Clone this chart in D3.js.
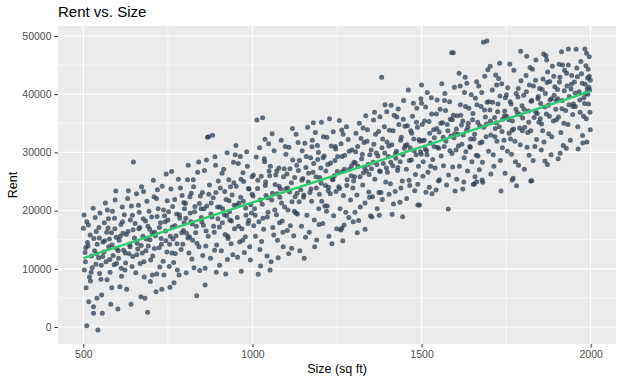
<!DOCTYPE html>
<html><head><meta charset="utf-8">
<script src="https://cdn.jsdelivr.net/npm/d3@7"></script>
<style>body{margin:0;background:#fff}svg{display:block}text{font-family:"Liberation Sans",Arial,sans-serif}</style>
</head><body><svg id="c" width="623" height="378"></svg>
<script>
const title = "Rent vs. Size";
const xLabel = "Size (sq ft)";
const yLabel = "Rent";
const xTicks = [500, 1000, 1500, 2000];
const yTicks = [0, 10000, 20000, 30000, 40000, 50000];
// [size, rent] (outer spread)
const pointsOuter = [
[502,19240],[510,18100],[500,16960],[515,17520],[508,6750],[516,4350],[530,3490],[540,4930],[510,220],[543,-515],[530,2350],[505,12800],[512,14500],[520,15800],[526,10200],[533,13100],[538,16400],[545,11900],[548,9200],[503,9800],[518,8600],[524,12200],[535,18800],[541,14200],[507,13600],[529,20400],[547,15300],[521,7900],[537,10800],[549,19600],
[556,2350],[554,5500],[596,23370],[584,6750],[558,14600],[562,17900],[567,11200],[571,20100],[575,13800],[579,9400],[583,16200],[588,12300],[592,18700],[597,15400],[553,10600],[565,21300],[570,8100],[577,15100],[586,19900],[591,10700],[599,13500],[561,12900],[573,17000],[594,21800],[581,3900],
[602,3090],[608,6920],[628,6480],[641,3900],[648,28350],[604,11800],[611,17600],[615,20600],[619,13200],[623,9800],[627,15900],[631,22100],[635,12600],[639,18400],[644,10400],[647,16700],[606,14900],[613,8700],[621,19300],[633,23400],[637,14100],[642,20800],[646,12100],[617,16100],[625,11000],
[670,5200],[682,4930],[690,2520],[653,17800],[657,22900],[661,13400],[665,19700],[668,10900],[672,24100],[676,15600],[680,8600],[684,18200],[688,21600],[692,13900],[696,16800],[699,11500],[655,9300],[663,20900],[674,12700],[678,23300],[686,15100],[694,19900],[698,7800],[659,14400],[667,17100],
[715,6060],[732,6480],[745,26300],[702,18900],[705,12200],[709,22400],[713,15700],[717,9100],[721,20300],[724,13600],[728,17900],[733,24200],[736,11300],[740,19100],[744,14800],[748,21700],[704,8930],[711,16300],[719,23600],[726,10300],[730,15200],[738,8930],[742,18100],[747,12900],[707,25200],
[756,6820],[752,19800],[755,14200],[759,23700],[763,17200],[767,11100],[770,21900],[774,15700],[778,9800],[781,25400],[785,18700],[789,13300],[792,22600],[796,16600],[799,20300],[754,10400],[761,26700],[765,15100],[772,12600],[776,19400],[783,8930],[787,23900],[794,14200],[798,17900],[768,7600],
[835,5380],[841,28350],[802,21200],[805,16100],[808,25300],[812,12700],[816,19600],[819,23000],[823,14900],[827,10200],[830,20700],[834,17300],[838,26600],[842,13800],[846,22500],[849,18800],[804,9300],[810,27800],[814,15500],[821,11700],[826,24100],[832,16200],[844,9700],[848,20300],[818,18100],
[860,7220],[867,32600],[870,32700],[882,32930],[889,29260],[860,10080],[852,23100],[855,17500],[858,26900],[862,13900],[865,20800],[869,15600],[873,24400],[876,11800],[880,18900],[884,22200],[887,16300],[891,27800],[894,14100],[897,20600],[853,12300],[864,28700],[878,21300],[893,9400],[899,25100],
[925,29950],[902,17200],[905,23900],[908,13100],[912,20300],[915,27100],[919,15900],[922,21900],[926,11600],[930,25300],[933,18400],[937,14300],[940,22700],[944,28300],[947,16900],[903,10600],[910,26400],[917,19300],[928,15200],[935,24100],[942,12400],[946,20900],[949,29600],[921,9100],[932,19800],
[952,24200],[955,18800],[958,28100],[962,14600],[965,22300],[969,16900],[972,26500],[976,12800],[980,20400],[983,30100],[987,17800],[990,23700],[994,11500],[997,19600],[951,31200],[960,21300],[967,9600],[974,25000],[979,15500],[985,27600],[992,13800],[999,22800],[956,12000],[964,29300],[989,18300],
[1013,35560],[1030,35960],[1037,32250],[1017,9050],[1003,26100],[1006,20300],[1009,15600],[1011,29200],[1015,23800],[1019,18100],[1022,13300],[1026,25900],[1029,21100],[1033,16800],[1036,28400],[1040,22600],[1043,12200],[1046,19700],[1049,26800],[1004,17400],[1021,30800],[1027,14700],[1039,24900],[1044,18900],[1048,31500],[1024,10500],
[1052,9790],[1055,11220],[1091,13800],[1053,27600],[1057,21800],[1060,17100],[1064,30300],[1067,24500],[1071,19300],[1074,14900],[1078,27300],[1081,22300],[1085,32100],[1088,18200],[1092,25800],[1095,20600],[1099,29700],[1058,33200],[1063,15800],[1069,26100],[1076,11900],[1083,23700],[1090,16300],[1097,31000],[1073,22900],
[1116,13520],[1102,26300],[1105,20100],[1108,30900],[1112,17400],[1115,24800],[1119,28700],[1122,15700],[1126,22400],[1129,33100],[1133,19400],[1136,26900],[1140,13100],[1143,23600],[1147,30300],[1103,16600],[1110,23200],[1118,34100],[1124,19900],[1131,27800],[1138,21500],[1145,17300],[1149,25500],[1107,12600],[1135,31700],
[1155,31560],[1176,30980],[1180,35100],[1153,11800],[1190,14950],[1152,22700],[1158,27400],[1161,19200],[1165,24900],[1168,16300],[1172,29100],[1175,21600],[1179,26600],[1183,18400],[1186,33400],[1189,23900],[1193,28800],[1196,20300],[1199,25700],[1157,15400],[1163,34300],[1170,23100],[1184,13800],[1192,31200],[1197,17600],
[1210,32700],[1220,32600],[1239,33550],[1202,27300],[1205,21600],[1208,17800],[1212,29400],[1216,24300],[1219,19900],[1223,27900],[1226,15600],[1230,22900],[1233,31100],[1237,25400],[1240,19100],[1244,28600],[1247,23300],[1249,16900],[1204,35200],[1214,20800],[1228,35800],[1235,14300],[1242,26000],[1246,30600],[1225,24000],
[1264,33850],[1264,16960],[1261,16660],[1271,17520],[1298,18090],[1252,29300],[1255,24100],[1259,20300],[1262,31500],[1266,26700],[1269,22600],[1273,29500],[1276,19700],[1280,25300],[1283,32200],[1287,27100],[1290,21800],[1294,30400],[1297,23900],[1300,28300],[1257,35500],[1267,14800],[1278,34400],[1285,18800],[1292,26000],
[1306,33270],[1310,16200],[1303,19700],[1333,16780],[1302,25800],[1305,30100],[1309,22700],[1312,27600],[1316,35000],[1319,20600],[1323,28900],[1326,24400],[1330,31700],[1333,21300],[1337,26800],[1340,33900],[1344,23200],[1347,29600],[1349,19100],[1314,18300],[1321,32400],[1328,26500],[1335,36300],[1342,27900],[1346,22300],
[1358,35560],[1377,36130],[1397,36990],[1382,42900],[1352,27200],[1355,22400],[1359,31400],[1362,25400],[1366,29900],[1369,20300],[1373,33600],[1376,26800],[1380,23100],[1383,30800],[1387,28100],[1390,34400],[1394,24900],[1398,31800],[1353,18900],[1361,36900],[1368,27900],[1375,19200],[1384,21900],[1392,38200],[1399,26600],
[1413,19360],[1444,18950],[1417,21130],[1436,21420],[1431,37450],[1402,29300],[1405,33800],[1408,24600],[1412,31300],[1415,27700],[1419,36400],[1422,23300],[1426,30200],[1429,26900],[1433,34800],[1437,28400],[1440,32600],[1443,25100],[1447,38900],[1449,30700],[1404,22800],[1410,38100],[1424,29000],[1439,23900],[1446,35700],
[1461,40720],[1476,38430],[1486,37570],[1489,20960],[1494,20960],[1489,24520],[1500,41580],[1452,31200],[1455,27100],[1458,34600],[1463,25200],[1466,30800],[1470,28700],[1473,36200],[1477,32300],[1480,23400],[1484,29600],[1488,34300],[1491,27600],[1495,31900],[1498,39200],[1456,22100],[1468,33700],[1482,26200],[1497,30100],
[1500,38430],[1513,23140],[1523,24000],[1543,23540],[1550,25080],[1502,34800],[1505,28400],[1508,32100],[1512,37800],[1515,30300],[1519,26600],[1522,35300],[1526,31600],[1529,39400],[1533,28800],[1536,33900],[1540,27300],[1544,36600],[1547,30900],[1504,25900],[1517,40300],[1531,22900],[1538,32500],[1546,39000],[1511,30600],
[1579,20270],[1589,47130],[1594,47130],[1599,23370],[1552,33500],[1555,37400],[1558,29400],[1562,35100],[1565,27700],[1569,40100],[1572,31900],[1576,34800],[1580,26100],[1583,38700],[1587,32800],[1590,29800],[1594,36400],[1597,41200],[1553,25300],[1560,41800],[1567,31000],[1574,24400],[1585,35700],[1592,27500],[1598,33200],
[1614,41400],[1634,41870],[1622,23710],[1602,30400],[1605,36300],[1608,33100],[1612,27600],[1615,38200],[1619,31400],[1622,35400],[1626,29100],[1629,42900],[1633,33800],[1636,26800],[1640,37600],[1643,31000],[1647,39900],[1649,28400],[1604,25400],[1611,43600],[1618,34700],[1625,24900],[1638,35000],[1645,32300],[1631,30100],
[1653,24520],[1663,42140],[1656,24570],[1681,24860],[1683,48910],[1693,49130],[1663,24960],[1658,25820],[1679,25250],[1652,36700],[1655,32300],[1659,39300],[1662,29500],[1666,35200],[1669,41400],[1673,31600],[1676,37900],[1680,28300],[1684,34300],[1687,43100],[1691,32700],[1694,38600],[1698,30200],[1671,27000],[1678,40300],[1689,36100],[1696,44200],
[1705,26290],[1735,23370],[1747,26400],[1702,37300],[1705,33000],[1709,40700],[1712,29600],[1716,36000],[1719,43300],[1723,31900],[1726,38300],[1730,34400],[1733,28600],[1737,41800],[1740,35700],[1744,32100],[1748,39400],[1703,44800],[1714,27600],[1721,35100],[1728,42700],[1739,30800],[1746,37100],[1731,45300],[1717,32700],
[1771,25550],[1781,24280],[1768,25250],[1793,47400],[1752,36200],[1755,41100],[1759,33300],[1762,38700],[1766,29700],[1769,35400],[1773,44100],[1776,31900],[1780,40100],[1783,36800],[1787,27800],[1790,34200],[1794,42300],[1797,38000],[1754,30200],[1761,45200],[1768,33800],[1778,28400],[1785,39500],[1792,31300],[1799,35900],
[1823,25080],[1826,25130],[1838,45870],[1802,39800],[1805,34300],[1809,43200],[1812,30900],[1816,37100],[1819,41600],[1823,33700],[1826,38900],[1830,28600],[1833,36000],[1837,42400],[1840,32200],[1844,39200],[1847,35200],[1804,27100],[1811,46500],[1818,29500],[1828,44300],[1835,31000],[1842,36700],[1849,41000],[1814,33400],
[1865,28520],[1868,46610],[1870,45870],[1852,38400],[1855,34900],[1859,42600],[1862,31800],[1866,40100],[1869,36600],[1873,43800],[1876,33200],[1880,39000],[1883,29600],[1887,44800],[1890,35400],[1894,41300],[1897,37400],[1854,30400],[1861,46900],[1872,27900],[1879,42200],[1885,32700],[1892,39800],[1899,35600],[1875,38100],
[1907,45130],[1917,45010],[1934,45010],[1910,29840],[1934,47760],[1902,40800],[1905,36100],[1909,42900],[1912,33400],[1916,38900],[1919,31200],[1923,44100],[1926,37200],[1930,41400],[1933,34800],[1937,39600],[1940,32100],[1944,43200],[1947,36500],[1904,28900],[1914,47300],[1921,35000],[1928,30700],[1942,40900],[1949,38300],
[1957,47710],[1983,47760],[1988,47020],[1996,46440],[1977,31610],[1952,42100],[1955,37900],[1959,44500],[1962,34400],[1966,40400],[1969,36900],[1973,43500],[1976,32900],[1980,39400],[1984,41700],[1987,35800],[1991,42800],[1994,38300],[1997,40700],[1999,33900],[1963,30600],[1971,45600],[1989,31800],[1993,44300],[1998,36900],[1985,40100],[1995,41200]
];
// [size, rent] (dense core near the trend)
const pointsCore = [
[506,11200],[514,13900],[523,9400],[531,15200],[539,12600],[546,17100],[557,12100],[563,14800],[569,16300],[578,11600],[585,14100],[593,16900],[598,10900],[552,8200],[574,18600],
[603,13100],[609,15600],[616,18100],[624,12700],[632,16400],[638,13800],[645,19200],[651,15300],[658,12400],[664,16900],[671,14000],[677,18600],[685,13100],[691,17300],[697,15000],[612,10100],[679,11200],
[703,16200],[710,13500],[718,19000],[725,17100],[731,14200],[737,20100],[743,16500],[750,18400],[757,15600],[764,20700],[771,17400],[777,14300],[784,19300],[791,16200],[797,21400],[716,22100],[762,12700],
[803,18700],[809,15300],[815,22400],[822,17700],[829,19800],[836,14400],[843,21200],[850,18100],[857,20300],[863,16500],[871,22800],[877,19400],[885,17300],[892,23100],[898,18600],[825,25300],[888,13200],
[904,20600],[911,17900],[918,23300],[924,19100],[931,21700],[938,18200],[945,24800],[953,20900],[959,17300],[966,25400],[973,21600],[981,19200],[988,23800],[995,21000],[999,25800],[927,15600],[971,14900],
[1002,22500],[1008,19200],[1016,25200],[1023,21800],[1031,18700],[1038,24300],[1045,22200],[1051,26000],[1059,23000],[1066,20100],[1072,26800],[1079,24200],[1086,21300],[1094,27200],[1098,23700],[1035,28900],[1080,17900],
[1104,23900],[1111,27200],[1117,21500],[1125,25700],[1132,23000],[1139,28600],[1146,25200],[1151,22300],[1159,29300],[1166,26400],[1173,23700],[1181,28100],[1188,25800],[1195,30000],[1198,22800],[1128,19600],[1177,32100],
[1203,24700],[1209,29100],[1217,26800],[1224,23400],[1231,28200],[1238,25300],[1245,31000],[1251,26700],[1258,23800],[1265,29300],[1272,27100],[1279,24300],[1286,30200],[1293,27700],[1299,25100],[1221,20800],[1268,33100],
[1304,28200],[1311,31000],[1318,25800],[1325,29700],[1332,27300],[1339,31900],[1345,26200],[1351,30400],[1357,28300],[1364,33100],[1371,29400],[1378,26700],[1385,32300],[1391,29900],[1396,27300],[1327,34200],[1374,23100],
[1403,31100],[1409,28300],[1416,33700],[1423,29800],[1430,27400],[1438,32100],[1445,29600],[1451,34500],[1457,31300],[1464,28600],[1471,33300],[1478,30300],[1485,35200],[1492,32200],[1499,29700],[1427,36100],[1465,24300],
[1503,32000],[1509,35400],[1516,29600],[1524,33300],[1530,36600],[1537,31000],[1545,34100],[1551,30700],[1557,35000],[1564,32600],[1571,37200],[1578,33700],[1584,30300],[1591,35600],[1596,32500],[1527,27600],[1568,38900],
[1603,34000],[1609,31100],[1616,36400],[1623,33000],[1630,37900],[1637,34300],[1644,30900],[1651,35600],[1657,33100],[1664,38200],[1672,34600],[1679,31800],[1686,37300],[1692,34900],[1699,38700],[1627,40300],[1667,29400],
[1704,35400],[1710,38600],[1718,34100],[1725,37000],[1732,39700],[1738,33600],[1745,36300],[1751,39900],[1758,35600],[1765,38300],[1772,34000],[1779,37400],[1786,41000],[1791,36500],[1798,33700],[1722,41600],[1763,32300],
[1803,37400],[1810,40400],[1817,35200],[1824,38800],[1831,41400],[1838,36900],[1845,39600],[1851,35800],[1857,40800],[1864,37800],[1871,42000],[1878,36200],[1884,39200],[1891,43100],[1898,38900],[1821,44600],[1858,33700],
[1903,39200],[1908,42100],[1915,37500],[1922,40600],[1929,43600],[1936,38200],[1943,41700],[1948,37900],[1954,40200],[1961,43000],[1968,39000],[1975,41900],[1982,38400],[1990,40900],[1996,43100],[1986,44900],[1992,40000],[1999,42400],[1979,36200]
];
const points = pointsOuter.concat(pointsCore);

const svg = d3.select("#c");
const P = {l: 58, r: 616, t: 26, b: 344};
const x = d3.scaleLinear().domain([425, 2075]).range([P.l, P.r]);
const y = d3.scaleLinear().domain([-2921, 51718]).range([P.b, P.t]);

svg.append("rect").attr("x", P.l).attr("y", P.t).attr("width", P.r - P.l).attr("height", P.b - P.t).attr("fill", "#ebebeb");

const xMinor = [750, 1250, 1750];
const yMinor = [5000, 15000, 25000, 35000, 45000];
const g = svg.append("g");
g.selectAll(".xm").data(xMinor).join("line").attr("x1", d => x(d)).attr("x2", d => x(d)).attr("y1", P.t).attr("y2", P.b).attr("stroke", "#fff").attr("stroke-width", 0.6);
g.selectAll(".ym").data(yMinor).join("line").attr("y1", d => y(d)).attr("y2", d => y(d)).attr("x1", P.l).attr("x2", P.r).attr("stroke", "#fff").attr("stroke-width", 0.6);
g.selectAll(".xM").data(xTicks).join("line").attr("x1", d => x(d)).attr("x2", d => x(d)).attr("y1", P.t).attr("y2", P.b).attr("stroke", "#fff").attr("stroke-width", 1.2);
g.selectAll(".yM").data(yTicks).join("line").attr("y1", d => y(d)).attr("y2", d => y(d)).attr("x1", P.l).attr("x2", P.r).attr("stroke", "#fff").attr("stroke-width", 1.2);

svg.append("g").selectAll("circle").data(points).join("circle")
  .attr("cx", d => x(d[0])).attr("cy", d => y(d[1])).attr("r", 2.5)
  .attr("fill", "#2c3e50").attr("fill-opacity", 0.74);

// linear fit
const mx = d3.mean(points, d => d[0]), my = d3.mean(points, d => d[1]);
const sxy = d3.sum(points, d => (d[0] - mx) * (d[1] - my));
const sxx = d3.sum(points, d => (d[0] - mx) ** 2);
const slope = sxy / sxx, icpt = my - slope * mx;
const xr = d3.extent(points, d => d[0]);
svg.append("line").attr("x1", x(xr[0])).attr("y1", y(icpt + slope * xr[0]))
  .attr("x2", x(xr[1])).attr("y2", y(icpt + slope * xr[1]))
  .attr("stroke", "#2ecc71").attr("stroke-width", 2.4);

const ax = svg.append("g").attr("transform", `translate(0,${P.b})`)
  .call(d3.axisBottom(x).tickValues(xTicks).tickSize(3.5).tickPadding(3).tickFormat(d3.format("d")));
const ay = svg.append("g").attr("transform", `translate(${P.l},0)`)
  .call(d3.axisLeft(y).tickValues(yTicks).tickSize(3.5).tickPadding(3).tickFormat(d3.format("d")));
[ax, ay].forEach(a => {
  a.select(".domain").remove();
  a.selectAll(".tick line").attr("stroke", "#333");
  a.selectAll(".tick text").attr("fill", "#4d4d4d").style("font-size", "10.5px");
});

svg.append("text").attr("x", 58).attr("y", 17).text(title).style("font-size", "15px").attr("fill", "#000");
svg.append("text").attr("x", (P.l + P.r) / 2).attr("y", 373).attr("text-anchor", "middle").text(xLabel).style("font-size", "12.5px");
svg.append("text").attr("transform", `translate(17,${(P.t + P.b) / 2}) rotate(-90)`).attr("text-anchor", "middle").text(yLabel).style("font-size", "12.5px");
</script></body></html>
